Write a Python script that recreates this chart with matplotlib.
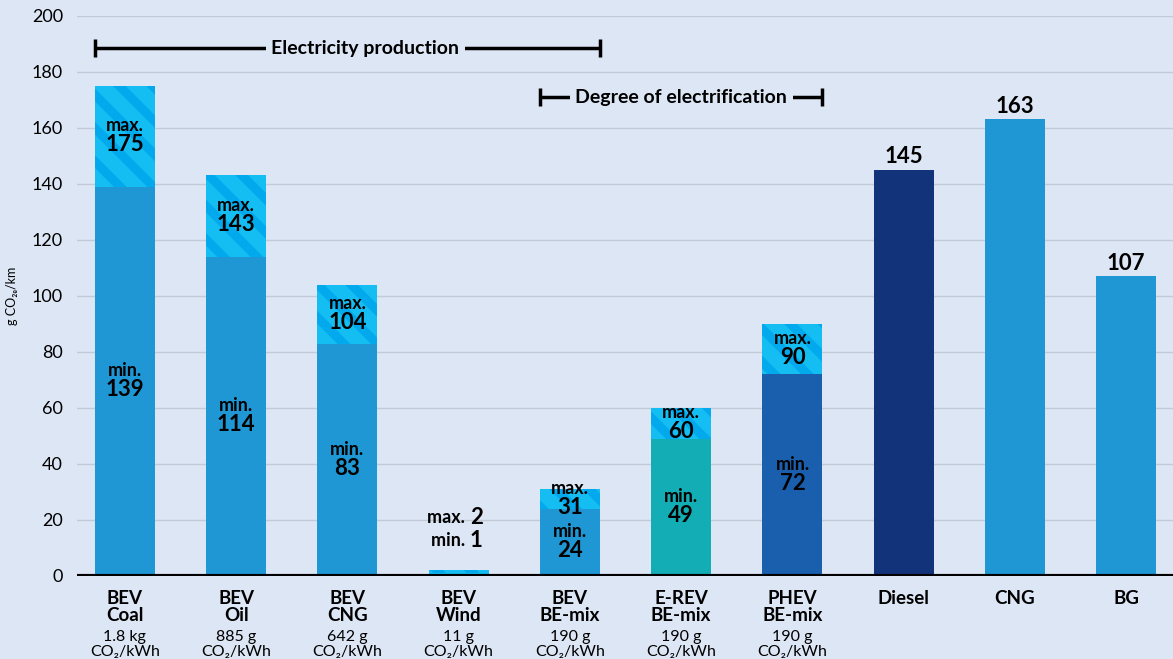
import matplotlib.pyplot as plt
import numpy as np

plt.rcParams['font.family'] = ['Lato', 'DejaVu Sans']
plt.rcParams['hatch.linewidth'] = 6.5

# data
top_names = ['BEV', 'BEV', 'BEV', 'BEV', 'BEV', 'E-REV', 'PHEV', 'Diesel', 'CNG', 'BG']
sub_names = ['Coal', 'Oil', 'CNG', 'Wind', 'BE-mix', 'BE-mix', 'BE-mix', '', '', '']
intensity = ['1.8 kg', '885 g', '642 g', '11 g', '190 g', '190 g', '190 g']
min_vals = [139, 114, 83, 1, 24, 49, 72]
max_vals = [175, 143, 104, 2, 31, 60, 90]
single_vals = [145, 163, 107]

bg = '#dde6f4'
min_colors = ['#1f97d4', '#1f97d4', '#1f97d4', '#14bdf0', '#1f97d4', '#13adb5', '#1a5fae']
single_colors = ['#12337a', '#1f97d4', '#1f97d4']
hatch_base = '#14bef2'
hatch_stripe = '#02a9ec'

fig = plt.figure(figsize=(11.73, 6.59), dpi=100, facecolor=bg)
ax = fig.add_axes([0.0656, 0.126, 0.9344, 0.85])
ax.set_facecolor(bg)

w = 0.54
n_ev = len(min_vals)
x_ev = np.arange(n_ev)
x_single = np.arange(n_ev, n_ev + len(single_vals))

ax.bar(x_ev, min_vals, w, color=min_colors, zorder=3)
diff = np.array(max_vals) - np.array(min_vals)
ax.bar(x_ev, diff, w, bottom=min_vals, color=hatch_base, edgecolor=hatch_stripe,
       hatch='\\', linewidth=0, zorder=3)
ax.bar(x_single, single_vals, w, color=single_colors, zorder=3)

# labels inside bars
for i in range(n_ev):
    lo, hi = min_vals[i], max_vals[i]
    if hi < 10:
        # tiny bar: labels above it
        ax.text(i + 0.1, hi + 19, 'max. ', ha='right', va='center', fontsize=13, fontweight='bold')
        ax.text(i + 0.1, hi + 19, str(hi), ha='left', va='center', fontsize=16, fontweight='bold')
        ax.text(i + 0.1, lo + 11.5, 'min. ', ha='right', va='center', fontsize=13, fontweight='bold')
        ax.text(i + 0.1, lo + 11.5, str(lo), ha='left', va='center', fontsize=16, fontweight='bold')
        continue
    mid_hi = (lo + hi) / 2
    ax.text(i, mid_hi + 3.7, 'max.', ha='center', va='center', fontsize=13, fontweight='bold', zorder=5)
    ax.text(i, mid_hi - 3.0, str(hi), ha='center', va='center', fontsize=16, fontweight='bold', zorder=5)
    mid_lo = lo / 2
    ax.text(i, mid_lo + 3.7, 'min.', ha='center', va='center', fontsize=13, fontweight='bold', zorder=5)
    ax.text(i, mid_lo - 3.0, str(lo), ha='center', va='center', fontsize=16, fontweight='bold', zorder=5)

for xi, v in zip(x_single, single_vals):
    ax.annotate(str(v), (xi, v), xytext=(0, 2), textcoords='offset points',
                ha='center', va='bottom', fontsize=16, fontweight='bold')

# brackets
def bracket(x0, x1, y, label, xt):
    ax.plot([x0, x1], [y, y], color='black', lw=2.5, zorder=4, solid_capstyle='butt')
    for xe in (x0, x1):
        ax.plot([xe, xe], [y - 3.3, y + 3.3], color='black', lw=2.5, zorder=4, solid_capstyle='butt')
    ax.text(xt, y, label, ha='center', va='center', fontsize=14, fontweight='bold', zorder=5,
            bbox=dict(facecolor=bg, edgecolor='none', pad=4))

bracket(0 - w / 2, 4 + w / 2, 188.5, 'Electricity production', 2.16)
bracket(4 - w / 2, 6 + w / 2, 171, 'Degree of electrification', 5.0)

# axes styling
ax.set_xlim(-0.43, 9.42)
ax.set_ylim(0, 200)
ax.set_yticks(range(0, 201, 20))
ax.tick_params(axis='y', length=0, labelsize=13, pad=10)
ax.set_xticks([])
ax.grid(axis='y', color='#c3cad6', lw=1, zorder=0)
for s in ax.spines.values():
    s.set_visible(False)
ax.axhline(0, color='black', lw=3, zorder=4)
ax.set_ylabel('g CO₂ₑ/km', fontsize=9, labelpad=10)

# category labels
trans = ax.get_xaxis_transform()
for i, name in enumerate(top_names):
    lab = name if sub_names[i] == '' else name + '\n' + sub_names[i]
    ax.text(i, -0.025, lab, transform=trans, ha='center', va='top', fontsize=13.5,
            fontweight='bold', linespacing=1.0)
for i, s in enumerate(intensity):
    ax.text(i, -0.097, s + '\nCO₂/kWh', transform=trans, ha='center', va='top', fontsize=11.5,
            linespacing=1.05)

fig.savefig('out.png', dpi=100, facecolor=bg)
